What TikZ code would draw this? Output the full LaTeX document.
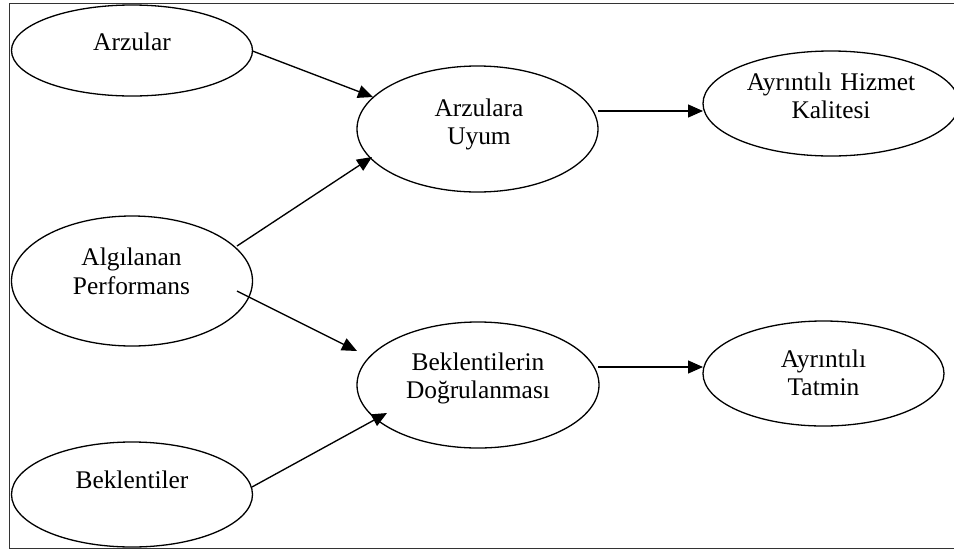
\documentclass[tikz,border=0pt]{standalone}
\usepackage{fontspec}
\setmainfont{Liberation Serif}
\usetikzlibrary{shapes.geometric,arrows.meta,calc}
\tikzset{
  oval/.style={ellipse, draw, line width=1.3pt, inner sep=0pt},
  lbl/.style={text width=250pt, align=center, inner sep=0pt, anchor=base,
    font=\fontsize{25.4}{28.8}\selectfont},
  conn/.style={line width=1.35pt, -{Triangle[length=15pt,width=13pt]}},
  frame/.style={draw=black!80, line width=1pt}
}
\begin{document}
\begin{tikzpicture}[x=1pt,y=-1pt]
\useasboundingbox (0,0) rectangle (954,550);
\clip (0,0) rectangle (954,550);
\fill[white] (0,0) rectangle (954,550);
\draw[frame] (9,3) rectangle (1000,548.5);
% ellipses
\node[oval, minimum width=241pt, minimum height=91pt] (arz) at (132,50.5) {};
\node[oval, minimum width=241pt, minimum height=130pt] (alg) at (132,281) {};
\node[oval, minimum width=241pt, minimum height=105pt] (bek) at (132,494.5) {};
\node[oval, minimum width=241pt, minimum height=126pt] (uyum) at (477.5,129) {};
\node[oval, minimum width=242pt, minimum height=126pt] (dog) at (478,385) {};
\node[oval, minimum width=256pt, minimum height=105pt] (ahk) at (831,103.5) {};
\node[oval, minimum width=241pt, minimum height=105pt] (tat) at (823.5,373.5) {};
% labels
\node[lbl] (tarz) at (132,50.7) {Arzular};
\node[lbl] (talg) at (131.5,265.7) {Algılanan\\Performans};
\node[lbl] (tbek) at (132,488.3) {Beklentiler};
\node[lbl] (tuyum) at (479,116) {Arzulara\\Uyum};
\node[lbl] (tdog) at (478,370) {Beklentilerin\\Doğrulanması};
\node[lbl] (tahk) at (831,90) {Ayrıntılı Hizmet\\Kalitesi};
\node[lbl] (ttat) at (823.5,367) {Ayrıntılı\\Tatmin};
% connectors
\draw[conn] ($(arz)+(120.5,0.5)$) -- ($(uyum)+(-104.5,-32)$);
\draw[conn] ($(alg)+(105,-35)$) -- ($(uyum)+(-105.5,28)$);
\draw[conn] ($(alg)+(105,10)$) -- ($(dog)+(-121,-34)$);
\draw[conn] ($(bek)+(120,-7.5)$) -- ($(dog)+(-91,28)$);
\draw[conn] ($(uyum)+(120.5,-18)$) -- ($(ahk)+(-128,7.5)$);
\draw[conn] ($(dog)+(120,-18)$) -- ($(tat)+(-120.5,-6.5)$);
\end{tikzpicture}
\end{document}
